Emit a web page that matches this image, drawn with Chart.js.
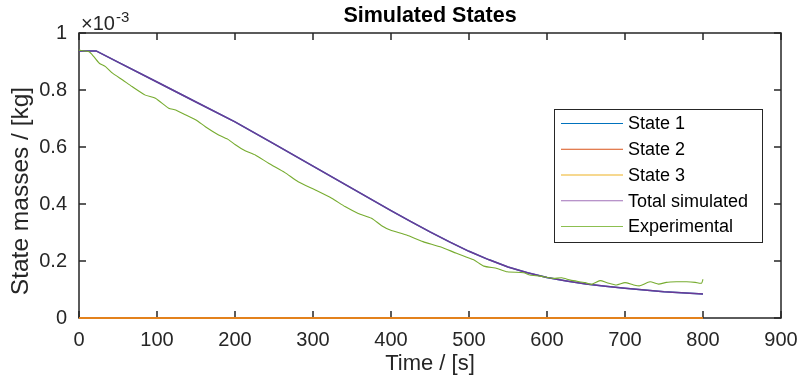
<!DOCTYPE html>
<html>
<head>
<meta charset="utf-8">
<script src="https://cdn.jsdelivr.net/npm/chart.js@4.4.1/dist/chart.umd.min.js"></script>
<style>
  html, body { margin: 0; padding: 0; background: #fff; }
  #wrap { width: 800px; height: 382px; }
</style>
</head>
<body>
<div id="wrap"><canvas id="chart"></canvas></div>
<script>
// simulated time points [s] and masses [x 1e-3 kg]
var simTime = [0, 22, 50, 100, 150, 200, 250, 300, 350, 400, 425, 450, 475, 500, 525, 550, 575, 600, 625, 650, 675, 700, 750, 800];
var totalSim = [0.937, 0.937, 0.898, 0.828, 0.758, 0.688, 0.611, 0.533, 0.455, 0.377, 0.339, 0.302, 0.267, 0.234, 0.205, 0.179, 0.159, 0.142, 0.130, 0.119, 0.111, 0.104, 0.092, 0.084];
var state1 = totalSim.slice();
var state2 = [0, 0];
var state3 = [0, 0];
var stateZeroTime = [0, 800];

// experimental measurement
var expTime = [0, 13, 19, 26, 34, 43, 56, 68, 85, 98, 115, 124, 137, 150, 162, 179, 192, 200, 213, 226, 243, 264, 281, 303, 324, 341, 358, 375, 388, 399, 420, 441, 463, 484, 506, 519, 536, 549, 570, 578, 591, 608, 619, 630, 649, 657, 668, 677, 689, 700, 711, 719, 732, 743, 753, 766, 779, 790, 798, 800];
var expMass = [0.940, 0.934, 0.917, 0.894, 0.882, 0.859, 0.835, 0.812, 0.782, 0.771, 0.736, 0.730, 0.712, 0.695, 0.671, 0.642, 0.625, 0.609, 0.587, 0.572, 0.543, 0.510, 0.478, 0.449, 0.420, 0.391, 0.367, 0.350, 0.324, 0.309, 0.291, 0.268, 0.250, 0.227, 0.204, 0.182, 0.174, 0.162, 0.159, 0.151, 0.147, 0.139, 0.141, 0.133, 0.124, 0.118, 0.131, 0.124, 0.116, 0.124, 0.116, 0.113, 0.127, 0.119, 0.125, 0.127, 0.127, 0.125, 0.122, 0.136];

var xTicks = [0, 100, 200, 300, 400, 500, 600, 700, 800, 900];
var yTicks = [0, 0.2, 0.4, 0.6, 0.8, 1];

var FONT = "'Liberation Sans', Arial, Helvetica, sans-serif";
var INK = "#262626";

function pts(xs, ys) {
  return xs.map(function (x, i) { return { x: x, y: ys[i] }; });
}

// axes box with inward ticks, exponent, title, y label and legend (MATLAB look)
var matlabAxes = {
  id: "matlabAxes",
  beforeDatasetsDraw: function (chart) {
    var ctx = chart.ctx;
    var a = chart.chartArea;
    var xs = chart.scales.x, ys = chart.scales.y;
    var tl = 7;
    ctx.save();
    ctx.strokeStyle = INK;
    ctx.lineWidth = 1.5;
    ctx.strokeRect(a.left, a.top, a.right - a.left, a.bottom - a.top);
    ctx.beginPath();
    xTicks.forEach(function (v) {
      var px = xs.getPixelForValue(v);
      ctx.moveTo(px, a.bottom); ctx.lineTo(px, a.bottom - tl);
      ctx.moveTo(px, a.top); ctx.lineTo(px, a.top + tl);
    });
    yTicks.forEach(function (v) {
      var py = ys.getPixelForValue(v);
      ctx.moveTo(a.left, py); ctx.lineTo(a.left + tl, py);
      ctx.moveTo(a.right, py); ctx.lineTo(a.right - tl, py);
    });
    ctx.stroke();
    ctx.restore();
  },
  afterDraw: function (chart) {
    var ctx = chart.ctx;
    var a = chart.chartArea;
    ctx.save();
    // title
    ctx.fillStyle = "#000";
    ctx.font = "bold 21.5px " + FONT;
    ctx.textAlign = "center";
    ctx.textBaseline = "middle";
    ctx.fillText("Simulated States", (a.left + a.right) / 2, 16);

    // exponent
    ctx.fillStyle = INK;
    ctx.textAlign = "left";
    ctx.textBaseline = "alphabetic";
    ctx.font = "20px " + FONT;
    var base = "\u00d710";
    ctx.fillText(base, a.left + 2, 30);
    var w = ctx.measureText(base).width;
    ctx.font = "15px " + FONT;
    ctx.fillText("-3", a.left + 2 + w + 1, 22);

    // y axis label
    ctx.save();
    ctx.translate(21, 191);
    ctx.rotate(-Math.PI / 2);
    ctx.font = "24.5px " + FONT;
    ctx.textAlign = "center";
    ctx.textBaseline = "middle";
    ctx.fillText("State masses / [kg]", 0, 0);
    ctx.restore();

    // legend
    var bx = 554, by = 109, bw = 208, bh = 133;
    ctx.fillStyle = "#fff";
    ctx.fillRect(bx, by, bw, bh);
    ctx.strokeStyle = INK;
    ctx.lineWidth = 1;
    ctx.strokeRect(bx + 0.5, by + 0.5, bw, bh);
    ctx.font = "18px " + FONT;
    ctx.textBaseline = "middle";
    ctx.textAlign = "left";
    chart.data.datasets.forEach(function (ds, i) {
      var ry = 123.5 + i * 25.75;
      ctx.strokeStyle = ds.legendColor;
      ctx.lineWidth = 1;
      ctx.beginPath();
      ctx.moveTo(561, ry);
      ctx.lineTo(623, ry);
      ctx.stroke();
      ctx.fillStyle = "#000";
      ctx.fillText(ds.label, 628, ry + 1);
    });
    ctx.restore();
  }
};

new Chart(document.getElementById("chart"), {
  type: "line",
  data: {
    datasets: [
      {
        label: "State 1",
        data: pts(simTime, state1),
        borderColor: "#0072BD",
        legendColor: "#0072BD",
        borderWidth: 1.5,
        order: 4
      },
      {
        label: "State 2",
        data: pts(stateZeroTime, state2),
        borderColor: "#D95319",
        legendColor: "#D95319",
        borderWidth: 2,
        clip: false,
        order: 3
      },
      {
        label: "State 3",
        data: pts(stateZeroTime, state3),
        borderColor: "#EDB120",
        legendColor: "#EDB120",
        borderWidth: 1,
        clip: false,
        order: 2
      },
      {
        label: "Total simulated",
        data: pts(simTime, totalSim),
        borderColor: "rgba(126,47,142,0.85)",
        legendColor: "#A070B8",
        borderWidth: 1.5,
        order: 1
      },
      {
        label: "Experimental",
        data: pts(expTime, expMass),
        borderColor: "#77AC30",
        legendColor: "#8CBF50",
        borderWidth: 1.1,
        tension: 0.2,
        order: 0
      }
    ]
  },
  options: {
    responsive: true,
    maintainAspectRatio: false,
    animation: false,
    events: [],
    elements: { point: { radius: 0 }, line: { tension: 0, fill: false } },
    layout: { padding: { left: 0, right: 19, top: 33, bottom: 0 } },
    plugins: {
      legend: { display: false },
      title: { display: false },
      tooltip: { enabled: false }
    },
    scales: {
      x: {
        type: "linear",
        min: 0,
        max: 900,
        afterFit: function (s) { s.height = 64; },
        afterBuildTicks: function (s) { s.ticks = xTicks.map(function (v) { return { value: v }; }); },
        grid: { display: false },
        border: { display: false },
        ticks: {
          padding: 2,
          color: INK,
          font: { family: FONT, size: 20 }
        },
        title: {
          display: true,
          text: "Time / [s]",
          color: INK,
          font: { family: FONT, size: 22 },
          padding: { top: 0, bottom: 5 }
        }
      },
      y: {
        min: 0,
        max: 1,
        afterFit: function (s) { s.width = 79; },
        afterBuildTicks: function (s) { s.ticks = yTicks.map(function (v) { return { value: v }; }); },
        grid: { display: false },
        border: { display: false },
        ticks: {
          padding: 4,
          color: INK,
          font: { family: FONT, size: 20 },
          callback: function (v) { return String(+v.toFixed(1)); }
        }
      }
    }
  },
  plugins: [matlabAxes]
});
</script>
</body>
</html>
